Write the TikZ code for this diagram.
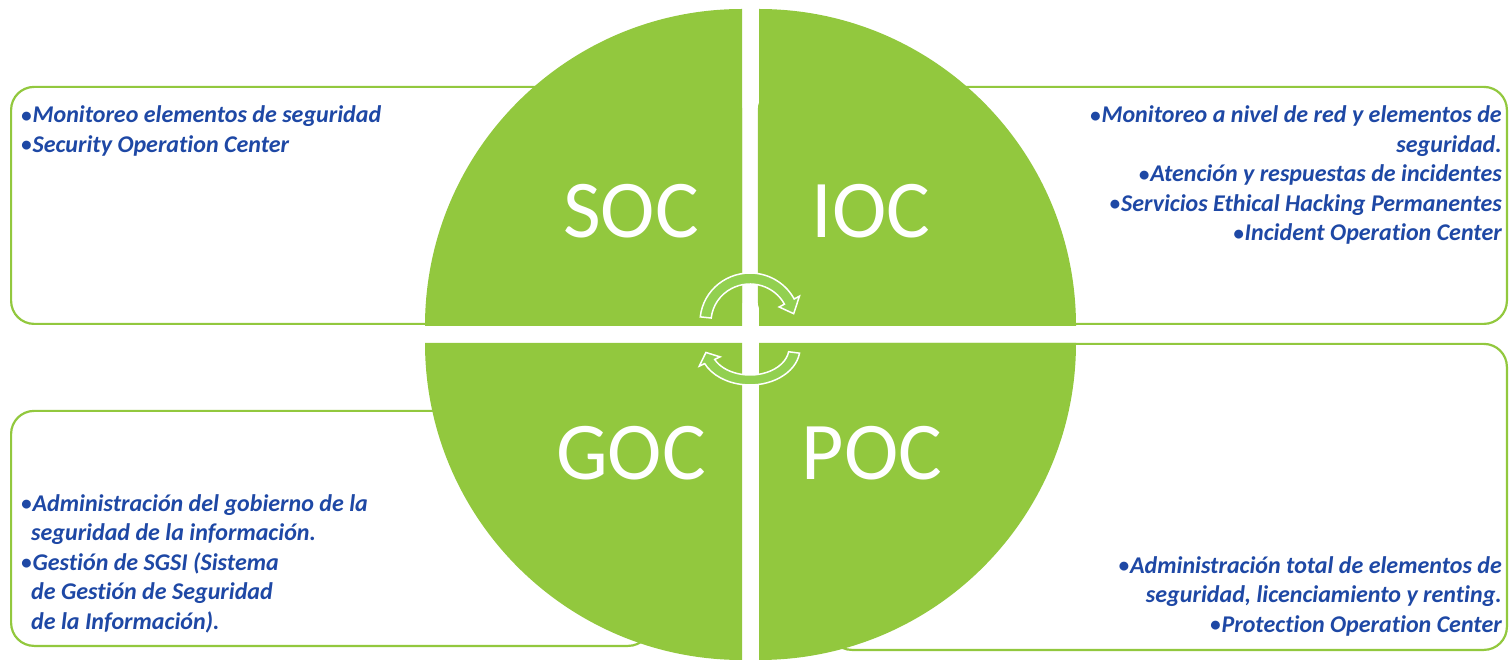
\documentclass[tikz,border=0pt]{standalone}
\usepackage{fontspec}
\setmainfont{Carlito}[Ligatures=NoCommon]
\usetikzlibrary{calc,positioning}
\definecolor{quadgreen}{RGB}{146,200,62}
\definecolor{arrowgreen}{RGB}{146,208,80}
\definecolor{textblue}{RGB}{30,72,165}
\tikzset{
	quad/.style={
		fill=quadgreen,
		draw=none
	}
}
\newcommand{\bul}{{\fontsize{21}{21}\selectfont\raisebox{0.5pt}{•}}\kern1pt}

\begin{document}
\begin{tikzpicture}[x=1pt,y=1pt]
	\tikzstyle{box}=[rectangle, draw=quadgreen, line width=2.2pt, rounded corners=23pt, fill=white, inner sep=0pt]
	\tikzstyle{tag}=[text=white, font=\fontsize{82}{82}\selectfont, inner sep=0pt]
	\tikzstyle{info}=[text=textblue, font=\fontsize{24}{29.5}\selectfont\bfseries\itshape, inner sep=0pt]
	\tikzstyle{cyc}=[fill=arrowgreen, draw=white, line width=1.5pt, line join=miter]
	\useasboundingbox (0,0) rectangle (1510,659);

	% boxes behind the circle
	\node[box, anchor=south west, minimum width=730pt, minimum height=237pt] (socbox) at (10,334) {};
	\node[box, anchor=south east, minimum width=748pt, minimum height=237pt] (iocbox) at (1508,334) {};
	\node[box, anchor=south west, minimum width=640pt, minimum height=235pt] (gocbox) at (10,12) {};
	\node[box, anchor=south east, minimum width=678pt, minimum height=306pt] (pocbox) at (1508,8) {};

	% the four quarters
	\fill[quad] (742,333) -- (425,333) arc[start angle=180, end angle=90, radius=317pt] -- cycle;
	\fill[quad] (759,333) -- (759,650) arc[start angle=90, end angle=0, radius=317pt] -- cycle;
	\fill[quad] (742,316) -- (425,316) arc[start angle=180, end angle=270, radius=317pt] -- cycle;
	\fill[quad] (759,316) -- (1076,316) arc[start angle=0, end angle=-90, radius=317pt] -- cycle;

	\node[tag] (soc) at (631,448) {SOC};
	\node[tag] (ioc) at (871,448) {IOC};
	\node[tag] (goc) at (631,206) {GOC};
	\node[tag] (poc) at (872,206) {POC};

	% cycle arrows
	\coordinate (upc) at (750,337);
	\coordinate (lowc) at (750,311);
	\draw[cyc] ($(upc)+(174:50 and 49)$) arc[start angle=174, end angle=28, x radius=50pt, y radius=49pt]
		-- ($(upc)+(28:56 and 55)$) -- ($(upc)+(11:44.5 and 43.5)$) -- ($(upc)+(28:33 and 32)$)
		-- ($(upc)+(28:39 and 38)$) arc[start angle=28, end angle=174, x radius=39pt, y radius=38pt] -- cycle;
	\draw[cyc] ($(lowc)+(-8:50 and 37)$) arc[start angle=-8, end angle=-155, x radius=50pt, y radius=37pt]
		-- ($(lowc)+(-155:56 and 43)$) -- ($(lowc)+(-172:44.5 and 32)$) -- ($(lowc)+(-155:33 and 21)$)
		-- ($(lowc)+(-155:39 and 27)$) arc[start angle=-155, end angle=-8, x radius=39pt, y radius=27pt] -- cycle;

	% texts
	\node[info, align=left, below right=20pt and 11pt of socbox.north west] (soctext)
		{\bul Monitoreo elementos de seguridad\\\bul Security Operation Center};
	\node[info, align=right, below left=20pt and 6pt of iocbox.north east] (ioctext)
		{\bul Monitoreo a nivel de red y elementos de\\seguridad.\\\bul Atención y respuestas de incidentes\\\bul Servicios Ethical Hacking Permanentes\\\bul Incident Operation Center};
	\node[info, align=left, above right=14pt and 11pt of gocbox.south west] (goctext)
		{\bul Administración del gobierno de la\\\hspace{10pt}seguridad de la información.\\\bul Gestión de SGSI (Sistema\\\hspace{10pt}de Gestión de Seguridad\\\hspace{10pt}de la Información).};
	\node[info, align=right, above left=15pt and 6pt of pocbox.south east] (poctext)
		{\bul Administración total de elementos de\\seguridad, licenciamiento y renting.\\\bul Protection Operation Center};
\end{tikzpicture}
\end{document}
